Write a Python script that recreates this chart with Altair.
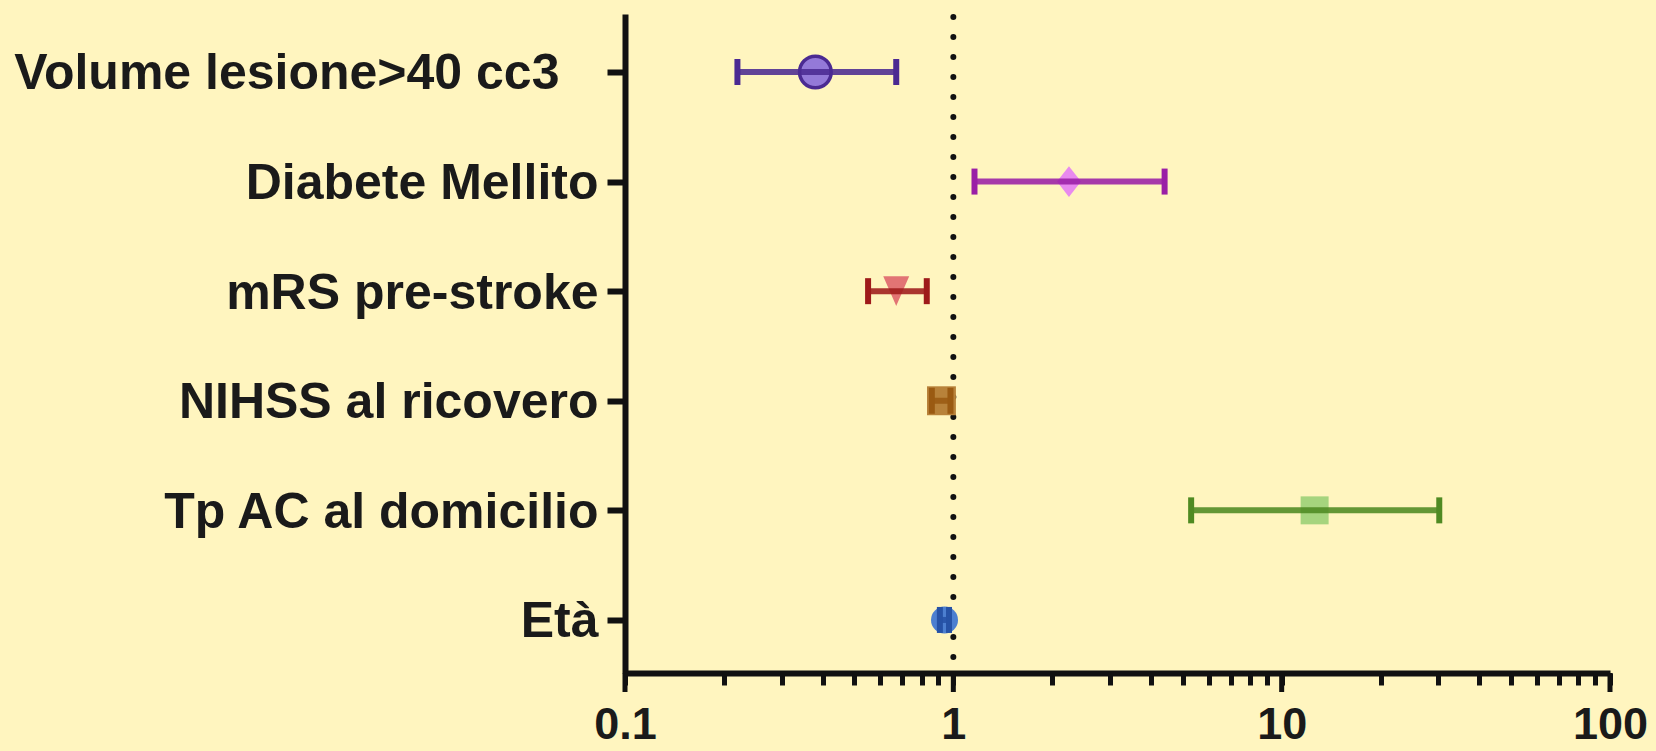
import json
import altair as alt
import pandas as pd

# Odds ratios with 95% CI, one row per predictor (top to bottom)
labels = [
    "Volume lesione>40 cc3",
    "Diabete Mellito",
    "mRS pre-stroke",
    "NIHSS al ricovero",
    "Tp AC al domicilio",
    "Età",
]
odds_ratio = [0.38, 2.25, 0.67, 0.92, 12.6, 0.94]
ci_low = [0.22, 1.16, 0.55, 0.86, 5.3, 0.91]
ci_high = [0.67, 4.4, 0.83, 0.98, 30.2, 0.97]

# x-axis ticks (log scale, decades with minor ticks) and the labelled decades
decades = [0.1, 1, 10, 100]
all_ticks = [round(m * 10 ** e, 6) for e in (-1, 0, 1) for m in range(1, 10)] + [100]
reference_or = [1]

# Per-row styling
line_colors = ["#4B2A92", "#9A1FA6", "#9E1A1A", "#9A5A12", "#4F8A22", "#2652A6"]
fill_colors = ["#9479D8", "#E88AEE", "#E27474", "#B8823A", "#A6D47E", "#4C7FD0"]
edge_colors = ["#4B2A92", "transparent", "transparent", "transparent", "transparent", "transparent"]
shapes = [
    "circle",
    "M0,-1L0.78,0L0,1L-0.78,0Z",
    "M-0.87,-1L0.87,-1L0,1Z",
    "square",
    "square",
    "circle",
]
marker_sizes = [1000, 729, 900, 30, 729, 625]

PLOT_W, PLOT_H = 985, 659
n = len(labels)
rows = [n - 1 - i for i in range(n)]

df = pd.DataFrame({
    "label": labels,
    "row": rows,
    "or": odds_ratio,
    "lo": ci_low,
    "hi": ci_high,
})

x_scale = alt.Scale(type="log", domain=[0.1, 100], nice=False)
y_scale = alt.Scale(domain=[-0.484, 5.529], nice=False, zero=False)

labels_by_row = [None] * n
for lab, r in zip(labels, rows):
    labels_by_row[r] = lab
y_label_expr = json.dumps(labels_by_row, ensure_ascii=False) + "[datum.value]"

x_axis = alt.Axis(
    values=all_ticks,
    labelExpr="abs(log(datum.value)/LN10 - round(log(datum.value)/LN10)) < 1e-6 ? format(datum.value, '~g') : ''",
    tickSize=12, tickWidth=5, tickColor="#111111",
    domainWidth=6, domainColor="#111111",
    labelFont="Liberation Sans", labelFontSize=45, labelFontWeight="bold",
    labelColor="#1a1a1a", labelPadding=17, labelFlush=False, labelOverlap=False,
    grid=False, title=None,
)
y_axis = alt.Axis(
    values=list(range(n)),
    labelExpr=y_label_expr,
    tickSize=18, tickWidth=6, tickColor="#111111",
    domainWidth=6, domainColor="#111111",
    labelFont="Liberation Sans", labelFontSize=50, labelFontWeight="bold",
    labelColor="#1a1a1a", labelOffset=2,
    labelPadding={"condition": {"test": f"datum.value == {n - 1}", "value": 48}, "value": 9},
    labelLimit=700,
    grid=False, title=None,
)

base = alt.Chart(df)

# Invisible-anchor layer carrying the axes
axes_layer = base.mark_point(opacity=0).encode(
    x=alt.X("or:Q", scale=x_scale, axis=x_axis),
    y=alt.Y("row:Q", scale=y_scale, axis=y_axis),
)

# Long ticks at the labelled decades
major_ticks = alt.Chart(pd.DataFrame({"v": decades})).mark_rule(
    color="#111111", strokeWidth=5
).encode(
    x=alt.X("v:Q", scale=x_scale),
    y=alt.value(PLOT_H),
    y2=alt.value(PLOT_H + 19),
)

# Dotted line of no effect (OR = 1)
ref_line = alt.Chart(pd.DataFrame({"v": reference_or})).mark_rule(
    color="#111111", strokeWidth=6, strokeDash=[0.1, 19.9], strokeCap="round"
).encode(
    x=alt.X("v:Q", scale=x_scale),
    y=alt.value(3),
    y2=alt.value(PLOT_H),
)

color_scale = alt.Scale(domain=labels, range=line_colors)

markers = base.mark_point(filled=True, opacity=1, strokeWidth=3.5).encode(
    x=alt.X("or:Q", scale=x_scale),
    y=alt.Y("row:Q", scale=y_scale),
    fill=alt.Fill("label:N", scale=alt.Scale(domain=labels, range=fill_colors), legend=None),
    stroke=alt.Stroke("label:N", scale=alt.Scale(domain=labels, range=edge_colors), legend=None),
    shape=alt.Shape("label:N", scale=alt.Scale(domain=labels, range=shapes), legend=None),
    size=alt.Size("label:O", scale=alt.Scale(domain=labels, range=marker_sizes), legend=None),
)

ci_lines = base.mark_rule(strokeWidth=6, opacity=0.88).encode(
    x=alt.X("lo:Q", scale=x_scale),
    x2="hi:Q",
    y=alt.Y("row:Q", scale=y_scale),
    color=alt.Color("label:N", scale=color_scale, legend=None),
)

cap_lo = base.mark_tick(orient="vertical", size=26, thickness=6, opacity=1).encode(
    x=alt.X("lo:Q", scale=x_scale),
    y=alt.Y("row:Q", scale=y_scale),
    color=alt.Color("label:N", scale=color_scale, legend=None),
)
cap_hi = base.mark_tick(orient="vertical", size=26, thickness=6, opacity=1).encode(
    x=alt.X("hi:Q", scale=x_scale),
    y=alt.Y("row:Q", scale=y_scale),
    color=alt.Color("label:N", scale=color_scale, legend=None),
)

chart = alt.layer(
    axes_layer, ref_line, major_ticks, markers, ci_lines, cap_lo, cap_hi
).properties(
    width=PLOT_W,
    height=PLOT_H,
    autosize="none",
    padding={"left": 625, "top": 14, "right": 46, "bottom": 78},
    background="#FFF5BF",
).configure_view(
    strokeWidth=0
)

chart.save("out.html", embed_options={"renderer": "svg", "actions": False})
